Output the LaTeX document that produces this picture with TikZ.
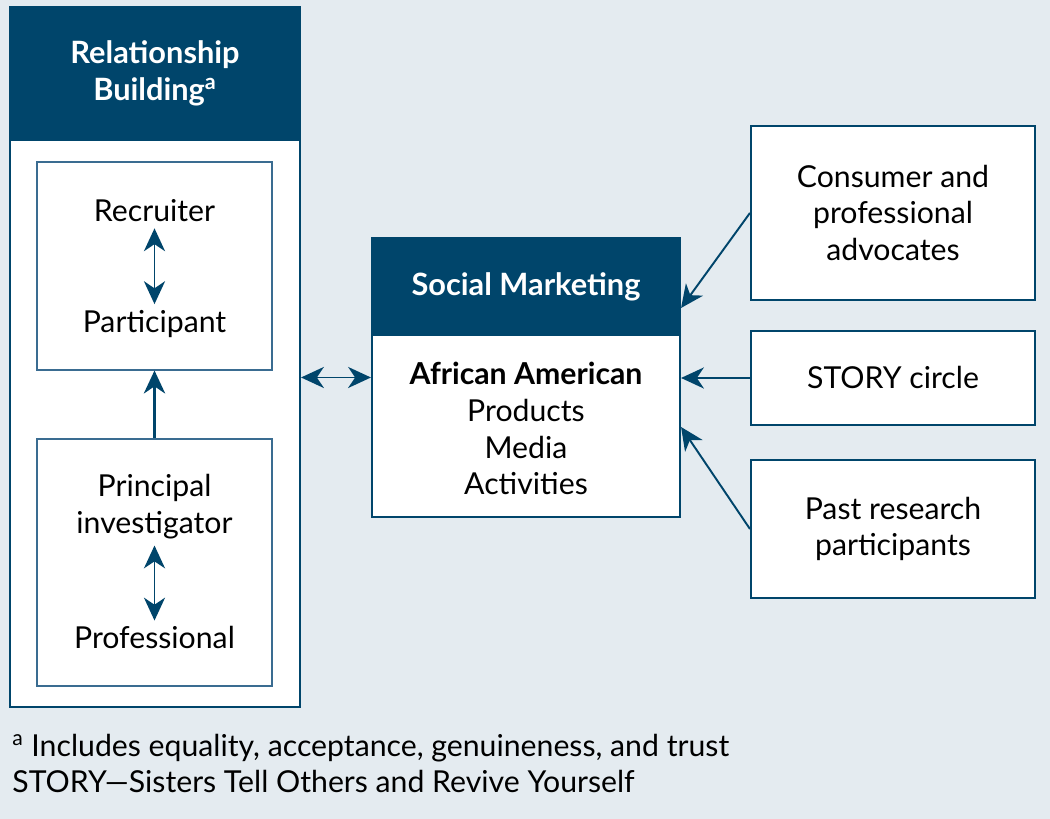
\documentclass[tikz,border=0pt]{standalone}
\usepackage{fontspec}
\setmainfont{Lato}
\definecolor{rbnavy}{RGB}{0,69,107}
\definecolor{rbpale}{RGB}{228,235,240}
\definecolor{rbline}{RGB}{58,108,145}
\usetikzlibrary{arrows.meta,positioning,calc}

\begin{document}
\begin{tikzpicture}[
  every node/.style={font=\fontsize{17.2}{21}\selectfont},
  hdrbox/.style={draw=rbnavy,fill=rbnavy,text=white,align=center,
                 font=\fontsize{17.5}{21}\selectfont\bfseries,inner sep=0pt},
  whitebox/.style={draw=rbnavy,fill=white,line width=1.2pt,inner sep=0pt,align=center},
  innerbox/.style={draw=rbline,fill=white,line width=0.6pt,inner sep=0pt},
  arr/.style={-{Stealth[length=13pt,width=12pt,inset=4pt]},line width=1.1pt,rbnavy},
  dblarr/.style={{Stealth[length=13pt,width=12pt,inset=4pt]}-{Stealth[length=13pt,width=12pt,inset=4pt]},
                 line width=1.1pt,rbnavy},
]
  \fill[rbpale] (0,0) rectangle (21,16.38);
  \useasboundingbox (0,0) rectangle (21,16.38);

  % Left column: relationship building
  \node[whitebox,minimum width=5.8cm,minimum height=14cm] (rb) at (3.1,9.24) {};
  \node[hdrbox,minimum width=5.8cm,minimum height=2.66cm] (rbhead) at (3.1,14.91)
    {Relationship\\Building\textsuperscript{a}};

  \node[innerbox,minimum width=4.7cm,minimum height=4.16cm] (recbox) at (3.09,11.06) {};
  \node[innerbox,minimum width=4.7cm,minimum height=4.94cm] (pibox) at (3.09,5.13) {};

  \node (recruiter) at (3.09,12.16) {Recruiter};
  \node (participant) at (3.09,9.9) {Participant};
  \node[align=center] (principal) at (3.09,6.24) {Principal\\investigator};
  \node (professional) at (3.09,3.62) {Professional};

  \draw[dblarr] (recruiter) -- (participant);
  \draw[dblarr] (principal) -- (professional);
  \draw[arr,line width=2.2pt] (pibox.north) -- (recbox.south);

  % Middle: social marketing
  \node[whitebox,minimum width=6.16cm,minimum height=5.58cm] (sm) at (10.52,8.83) {};
  \node[hdrbox,minimum width=6.16cm,minimum height=1.94cm] (smhead) at (10.52,10.65)
    {Social Marketing};
  \node[align=center] (smtext) at (10.52,7.81)
    {\textbf{African American}\\Products\\Media\\Activities};

  \draw[dblarr] (sm.west -| rb.east) -- (sm.west);

  % Right column: sources
  \node[whitebox,minimum width=5.68cm,minimum height=3.48cm] (advocates) at (17.86,12.12)
    {Consumer and\\professional\\advocates};
  \node[whitebox,minimum width=5.68cm,minimum height=1.88cm] (story) at (17.86,8.82)
    {STORY circle};
  \node[whitebox,minimum width=5.68cm,minimum height=2.76cm] (past) at (17.86,5.8)
    {Past research\\participants};

  \coordinate (inA) at ($(sm.east)+(0,1.39)$);
  \coordinate (inC) at ($(sm.east)+(0,-0.99)$);
  \draw[arr] (advocates.west) -- (inA);
  \draw[arr] (story.west) -- (story.west -| sm.east);
  \draw[arr] (past.west) -- (inC);

  % Notes
  \node[anchor=west,align=left,inner sep=0pt] (notes) at (0.24,1.11)
    {\textsuperscript{a} Includes equality, acceptance, genuineness, and trust\\
     STORY---Sisters Tell Others and Revive Yourself};
\end{tikzpicture}
\end{document}
